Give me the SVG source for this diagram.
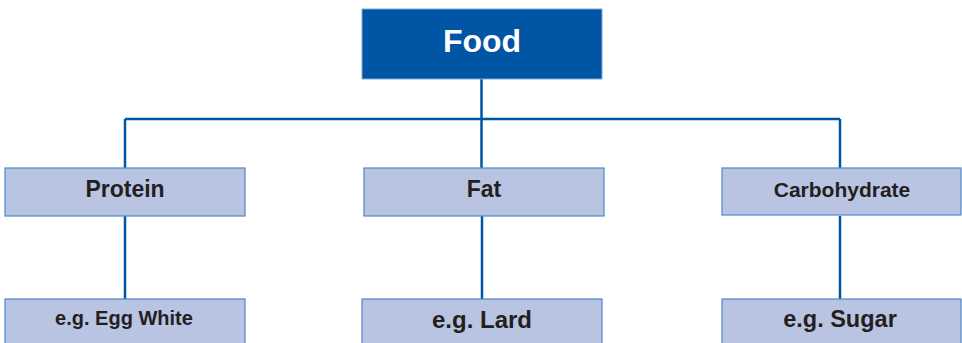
<svg xmlns="http://www.w3.org/2000/svg" width="962" height="343" viewBox="0 0 962 343">
<style>
.top{fill:#0055A5;stroke:#7FA6D4;stroke-width:1}
.box{fill:#B9C3E2;stroke:#4F86C6;stroke-width:1.2}
.lbl{font-family:"Liberation Sans",Arial,sans-serif;font-weight:bold;fill:#231F20;text-anchor:middle}
.conn{stroke:#0055A5;stroke-width:2.5;fill:none}
</style>
<rect width="962" height="343" fill="#fff"/>
<g id="connectors">
<path class="conn" d="M481.5 79 V168 M125 119 H840 M125 119 V168 M840 119 V168 M125 216 V299 M482 216 V299 M840 216 V299"/>
</g>
<g id="food">
<rect class="top" x="362" y="9" width="240" height="70"/>
<text class="lbl" x="482" y="52" font-size="32" style="fill:#fff">Food</text>
</g>
<g id="protein">
<rect class="box" x="5" y="168" width="240" height="48"/>
<text class="lbl" x="125" y="197" font-size="23">Protein</text>
</g>
<g id="fat">
<rect class="box" x="364" y="168" width="240" height="48"/>
<text class="lbl" x="484" y="197" font-size="23">Fat</text>
</g>
<g id="carbohydrate">
<rect class="box" x="722" y="168" width="239" height="47"/>
<text class="lbl" x="842" y="197" font-size="21">Carbohydrate</text>
</g>
<g id="eggwhite">
<rect class="box" x="5" y="299" width="240" height="50"/>
<text class="lbl" x="124" y="325" font-size="20">e.g. Egg White</text>
</g>
<g id="lard">
<rect class="box" x="362" y="299" width="240" height="50"/>
<text class="lbl" x="482" y="328" font-size="24">e.g. Lard</text>
</g>
<g id="sugar">
<rect class="box" x="722" y="299" width="239" height="50"/>
<text class="lbl" x="840" y="327" font-size="23.5">e.g. Sugar</text>
</g>
</svg>
